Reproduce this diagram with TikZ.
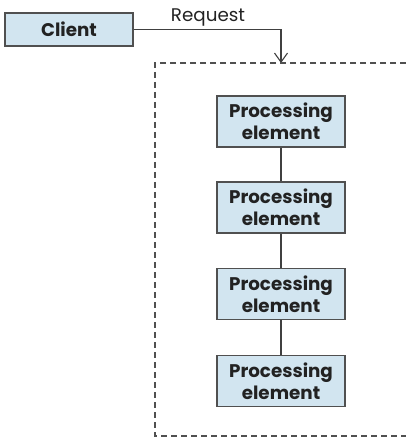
\documentclass[tikz,border=0pt]{standalone}
\usepackage{fontspec}
\setmainfont{Poppins}
\usetikzlibrary{arrows.meta}
\definecolor{boxfill}{HTML}{D2E5F0}
\definecolor{boxline}{HTML}{505050}
\definecolor{inktext}{HTML}{222222}
\tikzset{
  blockbox/.style={draw=boxline, line width=1.3pt, fill=boxfill, text=inktext,
    minimum width=128pt, inner sep=0pt, align=center,
    font=\fontsize{18.3}{22}\selectfont\bfseries},
  pebox/.style={blockbox, minimum height=51pt},
  link/.style={draw=boxline!80!black, line width=1.1pt},
  frame/.style={draw=boxline, line width=1.1pt, dash pattern=on 6pt off 4pt}
}
\begin{document}
\begin{tikzpicture}[x=1pt, y=-1pt]
  \useasboundingbox (0,0) rectangle (405,438);
  % client and the request line into the processing group
  \node[blockbox, minimum height=33pt] (client) at (69,29.5) {Client};
  \coordinate (entry) at (281,63);
  \node[font=\fontsize{18.3}{22}\selectfont, text=inktext, anchor=base] (req) at (208,22) {Request};
  \draw[link, -{Straight Barb[length=9pt, width=13pt, line width=1.1pt]}] (client.east) -| (entry);
  % group boundary (open on the right)
  \coordinate (tr) at (406,63);
  \coordinate (tl) at (155,63);
  \coordinate (bl) at (155,436);
  \coordinate (br) at (406,436);
  \draw[frame] (tr) -- (tl) -- (bl) -- (br);
  % chain of processing elements
  \node[pebox] (pe1) at (281,121.5) {Processing\\element};
  \node[pebox] (pe2) at (281,207.5) {Processing\\element};
  \node[pebox] (pe3) at (281,294) {Processing\\element};
  \node[pebox] (pe4) at (281,381) {Processing\\element};
  \draw[link] (pe1) -- (pe2);
  \draw[link] (pe2) -- (pe3);
  \draw[link] (pe3) -- (pe4);
\end{tikzpicture}
\end{document}
